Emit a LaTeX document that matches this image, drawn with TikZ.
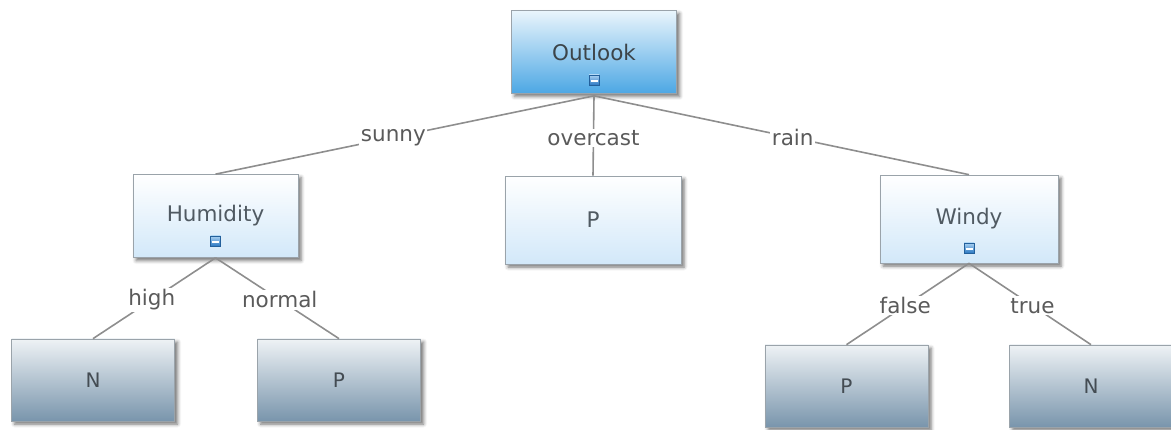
\documentclass[tikz,border=0pt]{standalone}
\usepackage{fontspec}
\newfontfamily\diagfont{DejaVu Sans}
\usetikzlibrary{shadows.blur}
\definecolor{edgegray}{HTML}{8E8E8E}
\definecolor{boxline}{HTML}{9AA3AA}
\definecolor{txt}{HTML}{505A62}
\definecolor{lbltxt}{HTML}{5A5A5A}
\definecolor{rootTop}{HTML}{EAF5FC}
\definecolor{rootBot}{HTML}{4CA7E4}
\definecolor{innerBot}{HTML}{D2E8F9}
\definecolor{leafTop}{HTML}{EEF2F5}
\definecolor{leafBot}{HTML}{7995AC}
\definecolor{iconTop}{HTML}{A9D1F2}
\definecolor{iconBot}{HTML}{2C78C2}
\begin{document}
\begin{tikzpicture}[x=1pt,y=-1pt,
  box/.style={draw=boxline, line width=0.7pt, minimum width=165pt, minimum height=83pt,
    font=\diagfont\fontsize{21.5}{25}\selectfont, text=txt,
    blur shadow={shadow xshift=3pt, shadow yshift=-3pt, shadow blur radius=3.5pt, shadow opacity=55}},
  root/.style={box, top color=rootTop, bottom color=rootBot, text=txt!75!black},
  inner/.style={box, top color=white, bottom color=innerBot},
  leaf/.style={box, top color=leafTop, bottom color=leafBot, minimum width=163pt, minimum height=82pt,
    font=\diagfont\fontsize{20}{24}\selectfont, text=txt!85!black},
  lbl/.style={fill=white, inner sep=1.5pt, font=\diagfont\fontsize{21.5}{25}\selectfont, text=lbltxt},
  edge/.style={draw=edgegray, line width=1.6pt},
  icon/.style={draw=iconBot!80!black, line width=0.4pt, top color=iconTop, bottom color=iconBot,
    minimum width=10pt, minimum height=10pt, inner sep=0pt}
]
\useasboundingbox (0,0) rectangle (1171,430);

% decision nodes
\node[root]  (outlook)  at (594,52)  {Outlook};
\node[inner] (humidity) at (215.5,216) {Humidity};
\node[inner, minimum width=176pt, minimum height=88pt] (pover) at (593,220) {P};
\node[inner, minimum width=178pt, minimum height=88pt] (windy) at (969,219) {Windy};

% leaves
\node[leaf] (nhigh)   at (93,380)   {N};
\node[leaf] (pnormal) at (339,380)  {P};
\node[leaf] (pfalse)  at (846.5,386) {P};
\node[leaf] (ntrue)   at (1091,386) {N};

% collapse icons
\foreach \n/\x/\y in {ico1/594/80, ico2/215.5/241, ico3/969/248}{
  \node[icon] (\n) at (\x,\y) {};
  \draw[white, line width=1.6pt] ([yshift=-1pt]\n.center) ++(-3.5pt,0) -- ++(7pt,0);
}

% branches
\draw[edge] ([yshift=-2pt]outlook.south) -- node[lbl, pos=0.53] (lsunny) {sunny} (humidity.north);
\draw[edge] ([yshift=-2pt]outlook.south) -- node[lbl, pos=0.53] (lover) {overcast} (pover.north);
\draw[edge] ([yshift=-2pt]outlook.south) -- node[lbl, pos=0.53] (lrain) {rain} (windy.north);
\draw[edge] (humidity.south) -- node[lbl, pos=0.52] (lhigh) {high} (nhigh.north);
\draw[edge] (humidity.south) -- node[lbl, pos=0.52] (lnormal) {normal} (pnormal.north);
\draw[edge] (windy.south) -- node[lbl, pos=0.52] (lfalse) {false} (pfalse.north);
\draw[edge] (windy.south) -- node[lbl, pos=0.52] (ltrue) {true} (ntrue.north);
\end{tikzpicture}
\end{document}
